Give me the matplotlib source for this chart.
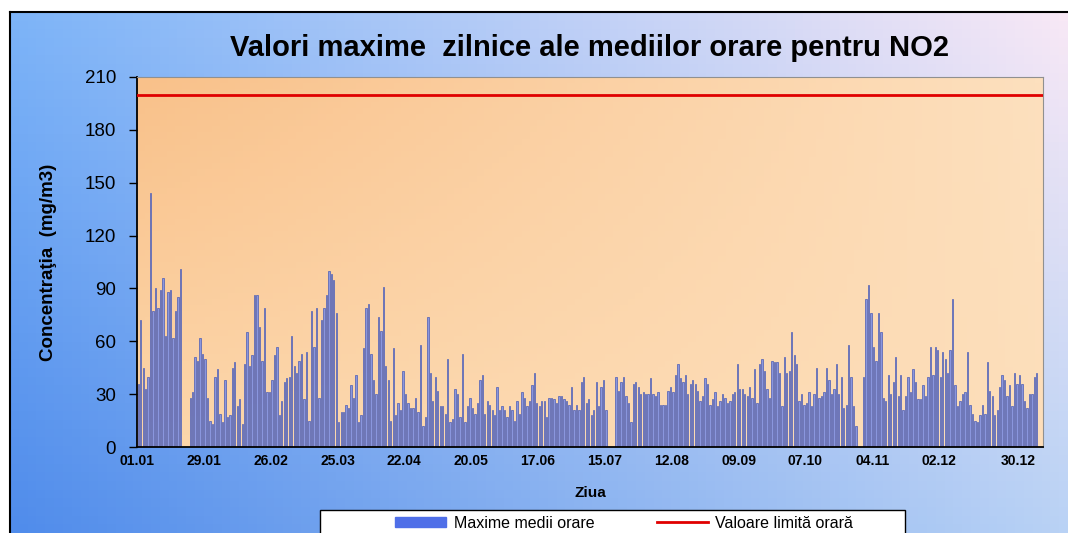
import numpy as np
import matplotlib.pyplot as plt
from matplotlib.patches import Patch, Rectangle
from matplotlib.lines import Line2D

# valori maxime zilnice (mg/m3), citite pe bucati de ~40 zile
jan_feb = [36, 72, 45, 33, 40, 144, 77, 90, 79, 89, 96, 63, 88, 89, 62, 77, 85, 101, 0, 0, 0,
           28, 31, 51, 49, 62, 53, 50, 28, 15, 13, 40, 44, 19, 14, 38, 17, 18, 45, 48, 23, 27]
feb_mar = [13, 47, 65, 46, 52, 86, 86, 68, 49, 79, 31, 31, 38, 52, 57, 18, 26, 37, 39, 40, 63,
           46, 42, 49, 53, 27, 54, 15, 77, 57, 79, 28, 72, 79, 86, 100, 98, 95, 76, 14, 20]
mar_apr = [20, 24, 22, 35, 28, 41, 14, 18, 56, 79, 81, 53, 38, 30, 74, 66, 91, 46, 38, 15,
           56, 18, 25, 21, 43, 30, 25, 22, 22, 28, 20, 58, 12, 17, 74, 42, 26, 40, 32, 23]
apr_jun = [23, 19, 50, 14, 16, 33, 30, 17, 53, 14, 23, 28, 22, 19, 25, 38, 41, 19, 26, 24,
           21, 18, 34, 21, 23, 21, 17, 23, 21, 15, 26, 19, 31, 28, 23, 26, 35, 42, 25]
jun_jul = [23, 26, 26, 17, 28, 28, 27, 25, 29, 29, 27, 26, 24, 34, 21, 24, 21, 37, 40, 25, 27,
           18, 21, 37, 23, 34, 38, 21, 0, 0, 0, 40, 32, 37, 40, 29, 25, 14, 36, 37, 34]
jul_sep = [30, 31, 30, 30, 39, 30, 29, 31, 24, 24, 24, 32, 34, 31, 41, 47, 39, 37, 41, 30,
           36, 38, 36, 32, 26, 29, 39, 36, 24, 27, 31, 23, 26, 30, 28, 25, 26, 30, 31, 47]
sep_oct = [33, 33, 30, 29, 34, 28, 44, 25, 47, 50, 43, 33, 28, 49, 48, 48, 42, 23, 51, 42,
           43, 65, 52, 47, 26, 30, 24, 25, 31, 23, 30, 45, 28, 29, 31, 45, 38, 30, 33, 47]
oct_nov = [30, 40, 22, 24, 58, 40, 23, 12, 0, 0, 40, 84, 92, 76, 57, 49, 76, 65, 28, 26, 41,
           30, 37, 51, 29, 41, 21, 29, 40, 31, 44, 37, 27, 27, 35, 29, 40, 57, 41, 57, 55]
nov_dec = [40, 54, 50, 42, 55, 84, 35, 23, 26, 30, 31, 54, 24, 19, 15, 14, 18, 24, 19, 48,
           32, 29, 18, 21, 34, 41, 38, 29, 35, 23, 42, 36, 41, 36, 26, 22, 30, 30, 40, 42]

valori = np.array(jan_feb + feb_mar + mar_apr + apr_jun + jun_jul + jul_sep
                  + sep_oct + oct_nov + nov_dec)
nr_zile = 366
etichete = ['01.01', '29.01', '26.02', '25.03', '22.04', '20.05', '17.06',
            '15.07', '12.08', '09.09', '07.10', '04.11', '02.12', '30.12']
limita = 200


def gradient(tl, tr, bl, br, h=60, w=120):
    # interpolare biliniara intre cele 4 colturi
    y, x = np.mgrid[0:1:h * 1j, 0:1:w * 1j]
    tl, tr, bl, br = [np.array(c) / 255.0 for c in (tl, tr, bl, br)]
    top = tl * (1 - x[..., None]) + tr * x[..., None]
    bot = bl * (1 - x[..., None]) + br * x[..., None]
    return top * (1 - y[..., None]) + bot * y[..., None]


fig = plt.figure(figsize=(10.68, 5.33), dpi=100)

# fundalul exterior
bg = fig.add_axes([0, 0, 1, 1], zorder=-10)
bg.set_xlim(0, 1)
bg.set_ylim(0, 1)
bg.axis('off')
x0, y1 = 10 / 1068, 1 - 12 / 533
bg.imshow(gradient((125, 180, 248), (248, 232, 245), (80, 140, 235), (185, 210, 245)),
          extent=[x0, 1, 0, y1], aspect='auto')
bg.plot([x0, 1], [y1, y1], color='black', lw=1.5)
bg.plot([x0, x0], [0, y1], color='black', lw=1.5)
# cadrul legendei (iese in afara imaginii, ca in original)
bg.add_patch(Rectangle((320 / 1068, -0.05), 585 / 1068, 0.05 + 1 - 510 / 533,
                       facecolor='white', edgecolor='black', lw=1))

ax = fig.add_axes([137 / 1068, 1 - 447 / 533, 906 / 1068, 370 / 533])
ax.imshow(gradient((249, 193, 138), (253, 224, 190), (252, 214, 170), (253, 222, 186)),
          extent=[-0.5, nr_zile - 0.5, 0, 210], aspect='auto', zorder=0)

zile = np.arange(len(valori))
ax.bar(zile, valori, width=0.55, color='#8a96de', edgecolor='#4c5cb2', linewidth=0.5, zorder=2)
ax.axhline(limita, color='#e00000', lw=2, zorder=3)

ax.set_xlim(-0.5, nr_zile - 0.5)
ax.set_ylim(0, 210)
ax.set_yticks(np.arange(0, 211, 30))
# pozitiile etichetelor ca in grafic (pas ~27 categorii, ultima la capat)
poz = [-0.5 + 27 * k for k in range(13)] + [355.5]
ax.set_xticks(poz)
ax.set_xticklabels(etichete, fontsize=10, fontweight='bold', family='Liberation Sans')
ax.tick_params(axis='y', labelsize=13.5, length=6, width=1, pad=9)
ax.tick_params(axis='x', length=0, pad=5)
for lbl in ax.get_yticklabels():
    lbl.set_family('Liberation Sans')
for s in ['left', 'bottom']:
    ax.spines[s].set_linewidth(1.3)
for s in ['top', 'right']:
    ax.spines[s].set_color('#909090')
    ax.spines[s].set_linewidth(0.8)

ax.set_xlabel('Ziua', fontsize=11, fontweight='bold', family='Liberation Sans', labelpad=13)
ax.set_ylabel('Concentraţia  (mg/m3)', fontsize=13.5, fontweight='bold',
              family='Liberation Sans', labelpad=20)

fig.text(590 / 1068, 1 - 48 / 533, 'Valori maxime  zilnice ale mediilor orare pentru NO2',
         ha='center', va='center', fontsize=21, fontweight='bold', family='Liberation Sans')

handles = [Patch(facecolor='#4f6fe8', edgecolor='#4f6fe8'),
           Line2D([0], [0], color='#e00000', lw=2)]
leg = fig.legend(handles, ['Maxime medii orare', 'Valoare limită orară'],
                 loc='center', bbox_to_anchor=(624 / 1068, 1 - 523 / 533),
                 ncol=2, frameon=False, prop={'family': 'Liberation Sans', 'size': 11.5},
                 handlelength=3.2, handleheight=0.6, handletextpad=0.45,
                 columnspacing=3.9, borderpad=0)

fig.savefig('out.png', dpi=100)
